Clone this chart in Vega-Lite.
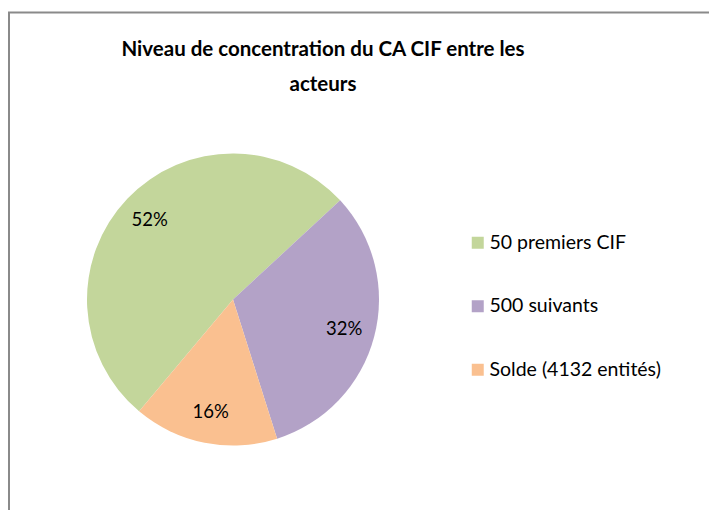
{
  "$schema": "https://vega.github.io/schema/vega-lite/v6.json",
  "width": 710,
  "height": 510,
  "autosize": "none",
  "padding": {"left": 9, "top": 12.5, "right": 0, "bottom": 0},
  "background": "white",
  "view": {"stroke": "#8a8a8a", "strokeWidth": 2, "fill": "white"},
  "config": {"view": {"stroke": "#8a8a8a", "strokeWidth": 2}, "font": "Lato"},
  "title": {
    "text": ["Niveau de concentration du CA CIF entre les", "acteurs"],
    "fontSize": 20.5,
    "font": "Lato",
    "fontWeight": "bold",
    "color": "black",
    "anchor": "middle",
    "frame": "group",
    "dx": -41,
    "baseline": "top",
    "offset": -83,
    "lineHeight": 35
  },
  "data": {
    "values": [
      {"cat": "50 premiers CIF", "value": 0.52, "ord": 1},
      {"cat": "500 suivants", "value": 0.32, "ord": 2},
      {"cat": "Solde (4132 entités)", "value": 0.16, "ord": 3}
    ]
  },
  "encoding": {
    "theta": {"field": "value", "type": "quantitative", "stack": true, "scale": {"range": [3.84, 10.1232]}},
    "order": {"field": "ord", "type": "quantitative"}
  },
  "layer": [
    {
      "mark": {"type": "arc", "outerRadius": 146, "x": 224, "y": 287},
      "encoding": {
        "color": {
          "field": "cat",
          "type": "nominal",
          "scale": {
            "domain": ["50 premiers CIF", "500 suivants", "Solde (4132 entités)"],
            "range": ["#C3D69B", "#B3A2C7", "#FAC090"]
          },
          "legend": {
            "orient": "none",
            "legendX": 459,
            "legendY": 220.5,
            "title": null,
            "padding": 0,
            "labelFontSize": 19.5,
            "labelFont": "Lato",
            "labelColor": "black",
            "labelLimit": 400,
            "symbolType": "square",
            "symbolSize": 144,
            "symbolStrokeWidth": 0,
            "rowPadding": 42.5,
            "labelOffset": 2
          }
        }
      }
    },
    {
      "mark": {"type": "text", "radius": 115, "x": 224, "y": 287, "fontSize": 18.5, "font": "Lato", "color": "black"},
      "encoding": {"text": {"field": "value", "type": "quantitative", "format": ".0%"}}
    }
  ]
}
